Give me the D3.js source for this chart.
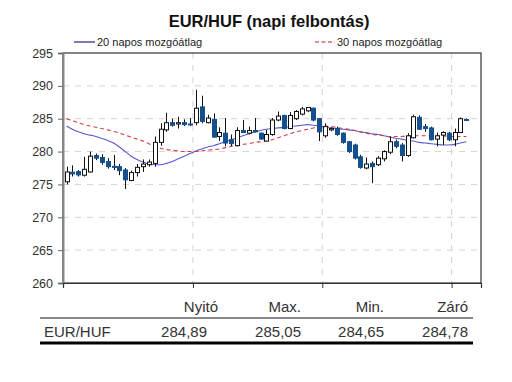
<!DOCTYPE html>
<html><head><meta charset="utf-8">
<script src="https://cdn.jsdelivr.net/npm/d3@7"></script>
<style>body{margin:0;background:#fff}svg{display:block}text{font-family:"Liberation Sans",Arial,sans-serif}</style>
</head><body><svg id="c" width="512" height="382"></svg>
<script>
const title = "EUR/HUF (napi felbontás)";
const legendLabels = ["20 napos mozgóátlag", "30 napos mozgóátlag"];
const open  = [275.4,276.85,276.95,276.4,276.9,279.4,279.1,278.5,277.75,277.7,277.2,275.6,276.8,277.7,278.0,278.2,281.4,283.3,284.4,284.2,284.4,284.2,284.4,286.8,284.4,284.9,282.3,282.8,281.8,280.9,283.2,282.8,283.2,282.8,281.6,282.6,284.8,285.5,283.5,285.0,285.7,286.2,286.6,285.0,282.4,283.3,283.5,282.8,281.5,281.0,279.2,277.5,278.2,278.0,278.9,279.9,281.5,281.0,279.4,282.1,285.2,283.8,283.6,281.9,282.5,282.8,281.8,282.9,284.89];
const high  = [277.7,277.9,277.2,279.2,280.0,279.7,279.6,279.0,279.5,278.1,277.5,277.1,278.1,278.8,278.8,282.3,284.3,285.9,285.0,285.3,284.9,285.1,289.4,288.5,285.6,285.8,283.7,285.1,282.6,283.7,284.8,283.8,285.1,282.9,283.3,285.1,286.1,285.6,286.0,286.3,286.8,286.8,286.7,285.1,284.3,283.7,283.8,282.9,281.6,281.2,279.5,279.1,278.5,279.3,280.2,282.3,281.8,281.3,282.8,285.6,285.5,284.2,283.8,282.9,283.1,283.0,283.5,285.2,285.05];
const low   = [275.0,276.2,276.2,276.2,276.8,278.7,278.0,277.4,277.2,276.4,274.3,275.5,276.2,276.9,277.7,277.7,280.9,283.0,283.8,283.5,283.9,283.9,284.0,284.3,284.3,282.1,281.6,280.8,280.8,280.8,282.8,282.6,282.9,281.8,281.6,282.4,284.6,283.4,283.4,284.8,285.5,286.0,284.6,281.6,282.1,283.1,282.4,281.2,279.8,278.8,277.4,277.3,275.2,277.8,278.5,279.6,280.5,278.5,279.2,282.0,283.3,283.0,281.7,280.8,281.0,281.6,280.8,282.8,284.65];
const close = [276.9,276.6,276.45,277.3,279.3,279.0,278.35,277.7,277.65,277.1,275.7,276.8,277.6,278.1,278.4,281.4,283.4,284.4,284.0,284.4,284.1,284.1,286.6,284.6,285.1,282.2,282.9,281.3,281.2,283.2,282.9,283.2,283.0,281.9,282.6,284.8,285.4,283.5,285.5,286.1,286.5,286.7,284.8,283.0,283.8,283.5,282.6,281.4,280.0,279.0,277.6,278.1,277.7,279.0,280.0,281.5,280.8,279.4,282.4,285.3,283.4,283.5,281.8,282.4,282.9,281.8,282.9,285.0,284.78];
const ma20 = [283.9,283.4,283.0,282.7,282.5,282.3,282.0,281.7,281.3,280.7,280.0,279.3,278.8,278.4,278.1,278.0,278.0,278.2,278.5,278.9,279.3,279.7,280.1,280.4,280.7,280.9,281.2,281.5,281.8,282.1,282.4,282.7,283.0,283.2,283.4,283.5,283.6,283.7,283.8,283.9,284.0,284.1,284.0,283.9,283.7,283.6,283.5,283.4,283.3,283.2,283.0,282.9,282.7,282.6,282.4,282.2,282.0,281.9,281.7,281.6,281.4,281.3,281.2,281.1,281.0,281.0,281.1,281.3,281.5];
const ma30 = [285.0,284.7,284.4,284.1,283.9,283.7,283.5,283.3,283.1,282.8,282.5,282.2,281.9,281.6,281.2,280.8,280.5,280.3,280.2,280.1,280.0,280.0,280.0,280.1,280.2,280.3,280.4,280.6,280.8,280.9,281.1,281.2,281.4,281.5,281.6,281.8,282.1,282.4,282.7,283.0,283.2,283.4,283.6,283.8,283.9,283.8,283.7,283.5,283.4,283.2,283.0,282.8,282.6,282.5,282.4,282.3,282.3,282.3,282.4,282.4,282.4,282.4,282.4,282.4,282.4,282.3,282.3,282.3,282.3];
const yTicks = [260,265,270,275,280,285,290,295];
const monthBreaks = [21.5,43.5,65.5];
const tableHeaders = ["Nyitó","Max.","Min.","Záró"];
const tableRowLabel = "EUR/HUF";
const tableValues = ["284,89","285,05","284,65","284,78"];

const svg = d3.select("#c");
const L = 63, R = 481, T = 53, B = 283;
const x = d3.scaleLinear().domain([-0.6, 70.5]).range([L, R]);
const y = d3.scaleLinear().domain([260, 295]).range([B, T]);
const idx = d3.range(open.length);

// title
svg.append("text").attr("x", 269).attr("y", 27).attr("text-anchor","middle")
  .attr("font-size", 16.5).attr("font-weight","bold").attr("fill","#111").text(title);

// legend
svg.append("line").attr("x1",74).attr("x2",95).attr("y1",42).attr("y2",42).attr("stroke","#22228a").attr("stroke-width",1.2);
svg.append("text").attr("x",97).attr("y",46).attr("font-size",11).attr("fill","#222").text(legendLabels[0]);
svg.append("line").attr("x1",315).attr("x2",335).attr("y1",42).attr("y2",42).attr("stroke","#b22222").attr("stroke-width",1.2).attr("stroke-dasharray","4,2.5");
svg.append("text").attr("x",337).attr("y",46).attr("font-size",11).attr("fill","#222").text(legendLabels[1]);

// grid
svg.append("g").selectAll("line").data(yTicks.filter(t=>t>260 && t<295)).join("line")
  .attr("x1",L).attr("x2",R).attr("y1",d=>y(d)).attr("y2",d=>y(d))
  .attr("stroke","#d4d4d4").attr("stroke-dasharray","6,6");
svg.append("g").selectAll("line").data(monthBreaks).join("line")
  .attr("x1",d=>x(d)).attr("x2",d=>x(d)).attr("y1",T).attr("y2",B)
  .attr("stroke","#d4d4d4").attr("stroke-dasharray","6,6");

// frame
svg.append("rect").attr("x",L).attr("y",T).attr("width",R-L).attr("height",B-T)
  .attr("fill","none").attr("stroke","#333").attr("stroke-width",1.2);

// y axis
const ya = svg.append("g").attr("transform",`translate(${L},0)`)
  .call(d3.axisLeft(y).tickValues(yTicks).tickSize(5).tickPadding(5).tickFormat(d3.format("d")));
ya.select(".domain").attr("stroke","#888").attr("stroke-width",2);
ya.selectAll(".tick line").attr("stroke","#666");
ya.selectAll("text").attr("font-size",12.5).attr("fill","#333").attr("font-family","Liberation Sans, Arial, sans-serif");

// x axis ticks
const xa = svg.append("g").attr("transform",`translate(0,${B})`)
  .call(d3.axisBottom(x).tickValues(monthBreaks).tickSize(5).tickFormat(""));
xa.select(".domain").attr("stroke","#333").attr("stroke-width",1.2);
xa.selectAll(".tick line").attr("stroke","#333");

// moving averages
const line = arr => d3.line().x((d,i)=>x(i)).y(d=>y(d)).curve(d3.curveMonotoneX)(arr);
svg.append("path").attr("d", line(ma20)).attr("fill","none").attr("stroke","#5a5ad0").attr("stroke-width",1.1);
svg.append("path").attr("d", line(ma30)).attr("fill","none").attr("stroke","#d04040").attr("stroke-width",1.1).attr("stroke-dasharray","4,3");

// candles
const bw = 4;
const cg = svg.append("g");
cg.selectAll("line.w").data(idx).join("line").attr("class","w")
  .attr("x1",i=>Math.round(x(i))+0.5).attr("x2",i=>Math.round(x(i))+0.5)
  .attr("y1",i=>y(high[i])).attr("y2",i=>y(low[i]))
  .attr("stroke","#111").attr("stroke-width",1);
cg.selectAll("rect.b").data(idx).join("rect").attr("class","b")
  .attr("x",i=>Math.round(x(i))+0.5-bw/2).attr("width",bw)
  .attr("y",i=>y(Math.max(open[i],close[i])))
  .attr("height",i=>Math.max(1, Math.abs(y(open[i])-y(close[i]))))
  .attr("fill",i=>close[i]>=open[i]?"#fff":"#13508e")
  .attr("stroke",i=>close[i]>=open[i]?"#111":"#13508e").attr("stroke-width",1);

// table
const hx = [218,301,384,468];
const vx = [207,301,384,468];
svg.append("g").selectAll("text").data(tableHeaders).join("text")
  .attr("x",(d,i)=>hx[i]).attr("y",312).attr("text-anchor","end")
  .attr("font-size",15).attr("fill","#333").text(d=>d);
svg.append("line").attr("x1",40).attr("x2",473).attr("y1",318).attr("y2",318).attr("stroke","#888").attr("stroke-width",2);
svg.append("text").attr("x",44).attr("y",337).attr("font-size",15).attr("fill","#333").text(tableRowLabel);
svg.append("g").selectAll("text").data(tableValues).join("text")
  .attr("x",(d,i)=>vx[i]).attr("y",337).attr("text-anchor","end")
  .attr("font-size",15).attr("fill","#333").text(d=>d);
svg.append("line").attr("x1",40).attr("x2",473).attr("y1",343).attr("y2",343).attr("stroke","#000").attr("stroke-width",3);
</script></body></html>
